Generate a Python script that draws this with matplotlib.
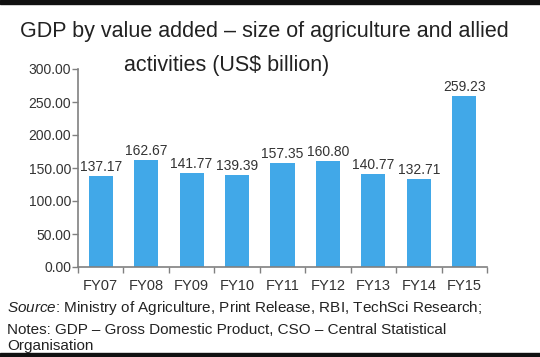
import numpy as np
import matplotlib.pyplot as plt
from matplotlib.patches import Rectangle

years = ['FY07', 'FY08', 'FY09', 'FY10', 'FY11', 'FY12', 'FY13', 'FY14', 'FY15']
gdp = [137.17, 162.67, 141.77, 139.39, 157.35, 160.80, 140.77, 132.71, 259.23]
yticks = [0, 50, 100, 150, 200, 250, 300]

plt.rcParams['font.family'] = ['Liberation Sans', 'DejaVu Sans']
plt.rcParams['mathtext.fontset'] = 'custom'
plt.rcParams['mathtext.rm'] = 'Liberation Sans'
plt.rcParams['mathtext.it'] = 'Liberation Sans:italic'

fig = plt.figure(figsize=(5.4, 3.57), dpi=100)
W, H = 540, 357

# black strips top and bottom like the screenshot
fig.patches.append(Rectangle((0, 1 - 4 / H), 1, 4 / H, transform=fig.transFigure,
                             color='#111111', zorder=0))
fig.patches.append(Rectangle((0, 0), 1, 4 / H, transform=fig.transFigure,
                             color='#111111', zorder=0))

ax = fig.add_axes([78 / W, 1 - 267 / H, 409 / W, 198 / H])
x = np.arange(len(years))
ax.bar(x, gdp, width=0.53, color='#41a8e8')
for xi, v in zip(x, gdp):
    ax.text(xi, v + 3, f'{v:.2f}', ha='center', va='bottom', fontsize=10, color='#333333')

ax.set_xlim(-0.5, len(years) - 0.5)
ax.set_ylim(0, 300)
ax.set_yticks(yticks)
ax.set_yticklabels([f'{t:.2f}' for t in yticks], fontsize=10, color='#333333')
ax.set_xticks(x)
ax.set_xticklabels(years, fontsize=10.5, color='#333333')
ax.tick_params(axis='x', length=0, pad=9)
ax.set_xticks(np.arange(len(years) + 1) - 0.5, minor=True)
ax.tick_params(axis='x', which='minor', length=4, color='#808080', width=1)
ax.tick_params(axis='y', length=4, color='#808080', width=1, pad=1)
for s in ['top', 'right']:
    ax.spines[s].set_visible(False)
for s in ['left', 'bottom']:
    ax.spines[s].set_color('#808080')
    ax.spines[s].set_linewidth(1.2)

fig.text(264 / W, 1 - 37 / H, 'GDP by value added \u2013 size of agriculture and allied',
         ha='center', va='baseline', fontsize=15.5, color='#222222')
fig.text(227 / W, 1 - 71 / H, 'activities (US$ billion)',
         ha='center', va='baseline', fontsize=15.5, color='#222222')

fig.text(7 / W, 1 - 308 / H,
         r'$\it{Source}$: Ministry of Agriculture, Print Release, RBI, TechSci Research;',
         ha='left', va='center', fontsize=11, color='#222222')
fig.text(7 / W, 1 - 330 / H,
         'Notes: GDP \u2013 Gross Domestic Product, CSO \u2013 Central Statistical',
         ha='left', va='center', fontsize=11, color='#222222')
fig.text(7 / W, 1 - 346 / H, 'Organisation',
         ha='left', va='center', fontsize=11, color='#222222')

fig.savefig('out.png', dpi=100)
